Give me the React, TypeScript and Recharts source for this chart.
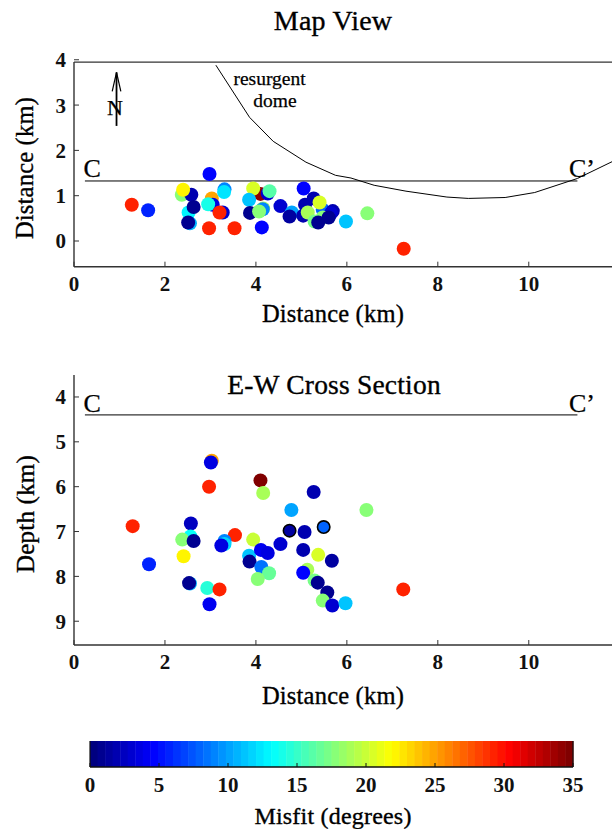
import React from 'react';
import { ScatterChart, Scatter, XAxis, YAxis, ReferenceLine, ReferenceDot, BarChart, Bar, Cell } from 'recharts';

const FONT = '"Liberation Serif", serif';

// Map view events, in drawing order
const mapX = [2.37,2.58,2.40,2.52,2.55,2.51,2.63,2.98,3.03,3.05,2.95,3.27,3.20,2.97,3.53,3.31,3.30,4.10,3.94,4.26,4.30,3.85,3.87,4.13,4.16,4.15,4.07,4.54,4.79,4.74,5.05,5.08,5.04,5.27,5.47,5.14,5.40,5.69,5.65,5.29,5.47,5.37,5.60,5.98,6.45,7.25,1.27,1.63];
const mapY = [1.02,1.02,1.13,0.63,0.39,0.41,0.75,1.48,0.94,0.80,0.81,0.63,0.63,0.28,0.28,1.14,1.08,1.04,1.16,1.05,1.10,0.91,0.62,0.30,0.72,0.70,0.65,0.77,0.63,0.54,1.16,0.80,0.56,0.94,0.69,0.63,0.85,0.66,0.61,0.43,0.52,0.41,0.52,0.43,0.61,-0.17,0.80,0.68];
const mapMisfit = [17.5,2,22,13,10.5,1,1,4.5,25,3.5,14,3,29,29,29,9,12.5,34,20.5,3,16,11,1,4.5,19,9,17.5,3,10,1.5,4.5,2,2,2,8,19,20.5,2,3,17,17.5,1,1,11,18,29,29,6];

// Cross-section events, in drawing order
const sectionX = [1.29,1.65,2.57,2.56,2.38,2.63,2.41,2.55,2.53,2.93,2.98,3.03,3.01,2.97,3.54,3.31,3.31,3.24,3.20,3.94,3.85,3.86,4.10,4.11,4.26,4.16,4.12,4.29,4.04,4.54,4.78,4.74,5.07,5.04,5.27,5.49,5.37,5.67,5.13,5.04,5.29,5.36,5.57,5.47,5.68,5.97,6.43,7.24];
const sectionDepth = [6.88,7.73,6.82,7.11,7.18,7.21,7.55,8.16,8.15,8.26,8.62,5.42,5.46,6.00,7.08,7.21,7.28,7.31,8.29,7.18,7.54,7.67,5.86,7.41,7.48,6.14,7.79,7.93,8.06,7.28,6.52,6.98,7.01,7.41,6.12,6.90,7.52,7.65,7.85,7.92,8.09,8.14,8.36,8.54,8.65,8.60,6.52,8.29];
const sectionMisfit = [29,6,2.5,13.5,17.5,1,22,10.5,1,14.5,4,25,3.5,29,29,9,12,3.5,29,20,11,1,34.5,4,3.5,19,8.5,16.5,17.5,3,10,1.5,2,2,2,8,20.5,1.5,19,4.5,17,1,1,17.5,3,11,18,29];
const sectionOutlined = [31, 35];

// Overlay lines
const domeX = [3.12,3.86,4.38,5.10,5.75,6.09,6.60,7.30,8.20,8.67,9.48,10.13,11.07,11.83];
const domeY = [3.88,2.73,2.20,1.74,1.45,1.39,1.23,1.10,0.97,0.94,0.96,1.07,1.38,1.75];
const sectionLineX = [0.24, 11.07];
const mapLineY = 1.325;
const sectionLineDepth = 4.4;

// Axis ticks
const xTicks = [0,2,4,6,8,10];
const mapYTicks = [0,1,2,3,4];
const depthTicks = [4,5,6,7,8,9];
const misfitTicks = [0,5,10,15,20,25,30,35];
const MISFIT_MAX = 35;
const BAND_COUNT = 64;

const clamp = (v: number) => Math.max(0, Math.min(1, v));
const jet = (i: number) => {
  const t = i / (BAND_COUNT - 1);
  const c = (v: number) => Math.round(clamp(v) * 255);
  return `rgb(${c(Math.min(4*t-1.5,-4*t+4.5))},${c(Math.min(4*t-0.5,-4*t+3.5))},${c(Math.min(4*t+0.5,-4*t+2.5))})`;
};
const misfitColor = (m: number) => jet(Math.min(BAND_COUNT - 1, Math.floor(m / MISFIT_MAX * BAND_COUNT)));

const mapData = mapX.map((x, i) => ({ x, y: mapY[i], misfit: mapMisfit[i] }));
const sectionData = sectionX.map((x, i) => ({ x, y: sectionDepth[i], misfit: sectionMisfit[i], outlined: sectionOutlined.includes(i) }));
const domeData = domeX.map((x, i) => ({ x, y: domeY[i] }));
const mapLineData = sectionLineX.map((x) => ({ x, y: mapLineY }));
const sectionLineData = sectionLineX.map((x) => ({ x, y: sectionLineDepth }));
const bandData = Array.from({ length: BAND_COUNT }, (_, i) => ({ mid: (i + 0.5) * MISFIT_MAX / BAND_COUNT, one: 1 }));

const Dot = (p: any) => p.payload.outlined
  ? <circle cx={p.cx} cy={p.cy} r={6.2} fill={misfitColor(p.payload.misfit)} stroke="#000" strokeWidth={1.6} />
  : <circle cx={p.cx} cy={p.cy} r={7} fill={misfitColor(p.payload.misfit)} />;
const NoDot = () => null;

const tickStyle = { fontFamily: FONT, fontSize: 21, fontWeight: 700, fill: '#111' };
const axisLine = { stroke: '#333', strokeWidth: 1.4 };
const tickLine = { stroke: '#333', strokeWidth: 1 };

const Caption = ({ x, y, size = 24, rotate = 0, children }: any) => (
  <div style={{ position: 'absolute', left: x, top: y, whiteSpace: 'nowrap', fontFamily: FONT, fontSize: size, color: '#000', letterSpacing: 0.2,
    WebkitTextStroke: '0.35px #000', transform: `translate(-50%,-50%) rotate(${rotate}deg)`, lineHeight: 1 }}>{children}</div>
);

const ptLabel = (value: string, fontSize: number) => ({ value, position: 'center' as const, style: { fontFamily: FONT, fontSize, fill: '#000', stroke: '#000', strokeWidth: 0.25 } });

export default function App() {
  return (
    <div style={{ position: 'absolute', left: 0, top: 0, width: 612, height: 829, overflow: 'hidden', background: '#fff' }}>
      <div style={{ position: 'absolute', left: 0, top: 0 }}>
        <ScatterChart width={612} height={330} margin={{ top: 57.5, right: 0, bottom: 0, left: 0 }}>
          <XAxis type="number" dataKey="x" domain={[0, 11.83]} allowDataOverflow ticks={xTicks} height={63.3} tickSize={-5} tickMargin={14} tick={tickStyle} axisLine={axisLine} tickLine={tickLine} />
          <YAxis type="number" dataKey="y" domain={[-0.567, 4.05]} allowDataOverflow ticks={mapYTicks} width={74} tickSize={-5} tickMargin={13} tick={tickStyle} axisLine={false} tickLine={tickLine} />
          <ReferenceLine segment={[{ x: 0, y: -0.567 }, { x: 0, y: 3.95 }]} stroke="#333" strokeWidth={1.4} />
          <ReferenceLine segment={[{ x: 0, y: 3.95 }, { x: 11.83, y: 3.95 }]} stroke="#333" strokeWidth={1.2} />
          <ReferenceLine segment={[{ x: 0.935, y: 2.54 }, { x: 0.935, y: 3.72 }]} stroke="#000" strokeWidth={1.8} />
          <ReferenceLine segment={[{ x: 0.84, y: 3.3 }, { x: 0.935, y: 3.72 }]} stroke="#000" strokeWidth={1.2} />
          <ReferenceLine segment={[{ x: 1.03, y: 3.3 }, { x: 0.935, y: 3.72 }]} stroke="#000" strokeWidth={1.2} />
          <Scatter data={domeData} line={{ stroke: '#000', strokeWidth: 1 }} shape={NoDot} isAnimationActive={false} />
          <Scatter data={mapLineData} line={{ stroke: '#000', strokeWidth: 1 }} shape={NoDot} isAnimationActive={false} />
          <Scatter data={mapData} shape={Dot} isAnimationActive={false} />
          <ReferenceDot x={0.9} y={2.95} r={0} label={ptLabel('N', 22)} />
          <ReferenceDot x={0.4} y={1.61} r={0} label={ptLabel('C', 26)} />
          <ReferenceDot x={11.17} y={1.61} r={0} label={ptLabel('C’', 26)} />
          <ReferenceDot x={4.3} y={3.6} r={0} label={ptLabel('resurgent', 19.5)} />
          <ReferenceDot x={4.42} y={3.12} r={0} label={ptLabel('dome', 19.5)} />
        </ScatterChart>
      </div>
      <div style={{ position: 'absolute', left: 0, top: 340 }}>
        <ScatterChart width={612} height={370} margin={{ top: 35, right: 0, bottom: 0, left: 0 }}>
          <XAxis type="number" dataKey="x" domain={[0, 11.83]} allowDataOverflow ticks={xTicks} height={65} tickSize={-5} tickMargin={14} tick={tickStyle} axisLine={axisLine} tickLine={tickLine} />
          <YAxis type="number" dataKey="y" domain={[3.51, 9.53]} reversed allowDataOverflow ticks={depthTicks} width={74} tickSize={-5} tickMargin={13} tick={tickStyle} axisLine={axisLine} tickLine={tickLine} />
          <Scatter data={sectionLineData} line={{ stroke: '#000', strokeWidth: 1 }} shape={NoDot} isAnimationActive={false} />
          <Scatter data={sectionData} shape={Dot} isAnimationActive={false} />
          <ReferenceDot x={0.4} y={4.13} r={0} label={ptLabel('C', 26)} />
          <ReferenceDot x={11.17} y={4.13} r={0} label={ptLabel('C’', 26)} />
        </ScatterChart>
      </div>
      <div style={{ position: 'absolute', left: 0, top: 730 }}>
        <BarChart width={612} height={70} data={bandData} barCategoryGap={0} margin={{ top: 11, right: 39, bottom: 0, left: 90 }}>
          <XAxis type="number" dataKey="mid" domain={[0, MISFIT_MAX]} ticks={misfitTicks} height={33} tickSize={-4} tickMargin={14} tick={tickStyle} axisLine={{ stroke: '#111', strokeWidth: 1.6 }} tickLine={{ stroke: '#111' }} interval={0} padding={{ left: 0, right: 0 }} />
          <XAxis xAxisId="top" orientation="top" type="number" dataKey="mid" domain={[0, MISFIT_MAX]} ticks={misfitTicks} height={0} tickSize={-4} tickFormatter={() => ''} axisLine={{ stroke: '#666', strokeWidth: 1 }} tickLine={{ stroke: '#111' }} interval={0} />
          <YAxis type="number" domain={[0, 1]} hide />
          <Bar dataKey="one" isAnimationActive={false}>
            {bandData.map((_, i) => <Cell key={i} fill={jet(i)} />)}
          </Bar>
          <ReferenceLine x={0} stroke="#111" strokeWidth={1.2} />
          <ReferenceLine x={MISFIT_MAX} stroke="#111" strokeWidth={1.2} />
        </BarChart>
      </div>
      <Caption x={333} y={21} size={28}>Map View</Caption>
      <Caption x={333} y={314} size={24.5}>Distance (km)</Caption>
      <Caption x={25} y={168} size={24.5} rotate={-90}>Distance (km)</Caption>
      <Caption x={334} y={385} size={27.5}>E-W Cross Section</Caption>
      <Caption x={333} y={696} size={24.5}>Distance (km)</Caption>
      <Caption x={25} y={514} size={25} rotate={-90}>Depth (km)</Caption>
      <Caption x={333} y={816} size={24}>Misfit (degrees)</Caption>
    </div>
  );
}
